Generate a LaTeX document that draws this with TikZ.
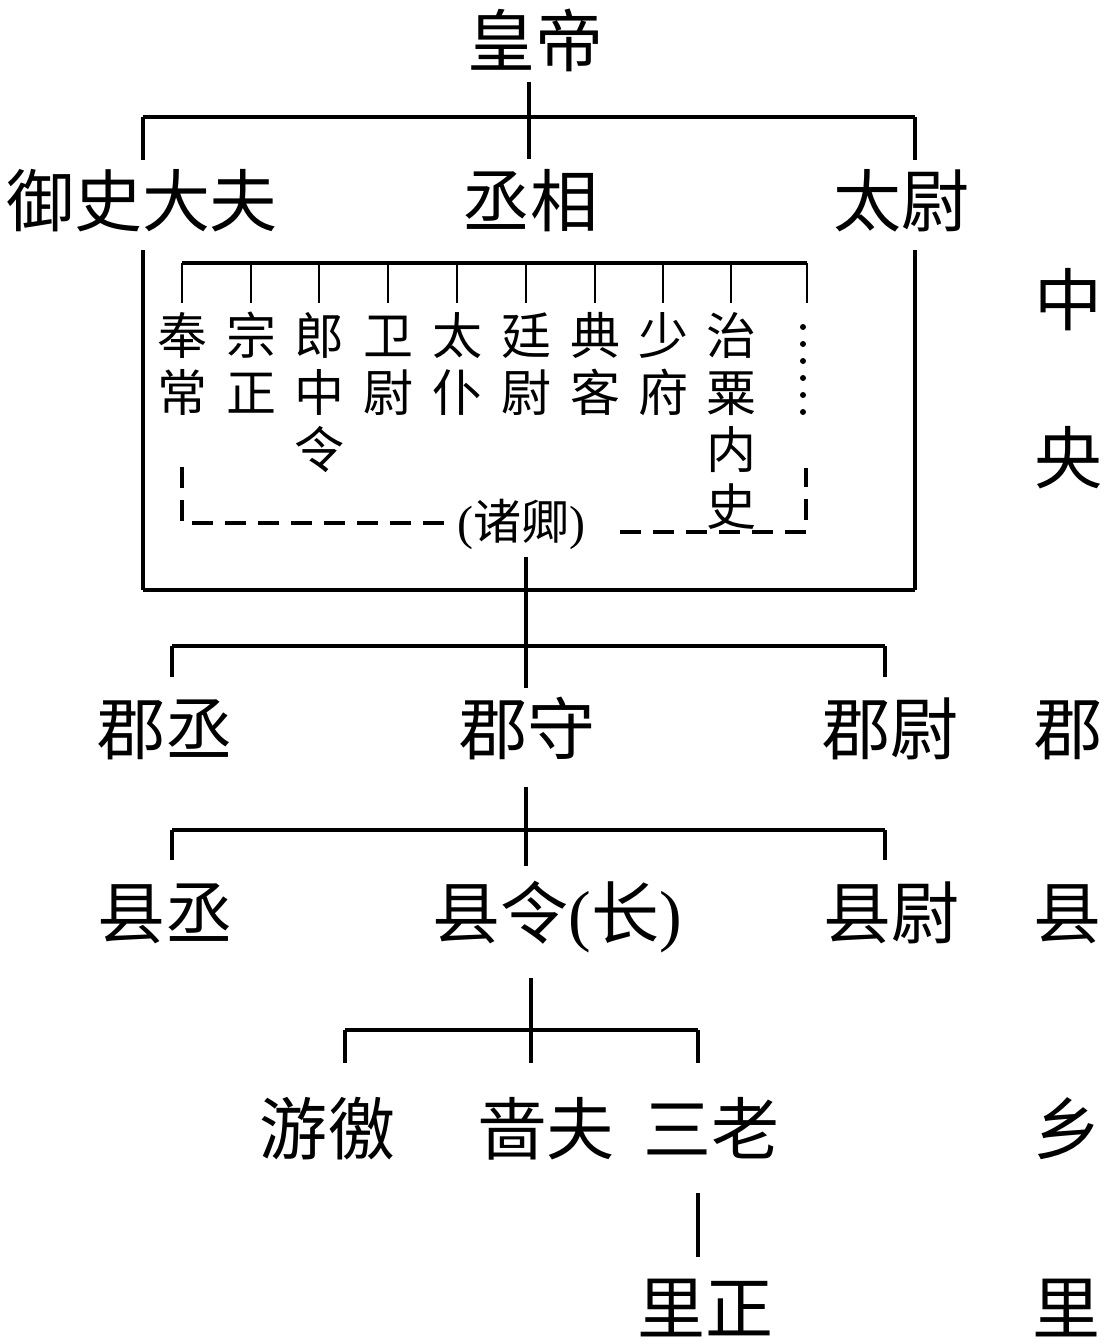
\documentclass[tikz,border=0pt]{standalone}
\usepackage{fontspec}
\setmainfont{Liberation Serif}
\newfontfamily\cjk{Noto Sans CJK SC}
\begin{document}
\begin{tikzpicture}[x=1pt,y=-1pt,
  big/.style={font=\fontsize{68}{70}\selectfont\cjk, inner sep=0pt, text height=60pt, text depth=8pt},
  bigr/.style={font=\fontsize{68}{70}\selectfont, inner sep=0pt, text height=60pt, text depth=8pt},
  small/.style={font=\fontsize{50}{52}\selectfont\cjk, inner sep=0pt, text height=44pt, text depth=6pt},
  midr/.style={font=\fontsize{48}{50}\selectfont, inner sep=0pt, text height=42pt, text depth=6pt},
  conn/.style={line width=3.2pt},
  bar/.style={line width=4pt},
  tick/.style={line width=2.8pt},
  dashline/.style={line width=3.2pt, dash pattern=on 21pt off 12pt},
  dotline/.style={line width=6pt, line cap=round, dash pattern=on 0pt off 17pt}]
\useasboundingbox (0,0) rectangle (1108,1342);

% ---- top level ----
\node[big] (hd) at (535,40) {皇帝};
\node[big] (ys) at (142,200) {御史大夫};
\node[big] (cx) at (530,200) {丞相};
\node[big] (tw) at (901,200) {太尉};

\coordinate (hdB) at (529,82);
\coordinate (cxT) at (529,159);
\coordinate (b1L) at (143,117);
\coordinate (b1R) at (915,117);
\coordinate (ysT) at (143,160);
\coordinate (twT) at (915,160);
\draw[conn] (hdB) -- (cxT);
\draw[bar] (b1L) -- (b1R);
\draw[conn] (b1L) -- (ysT);
\draw[conn] (b1R) -- (twT);

% ---- big frame from 御史大夫 and 太尉 ----
\coordinate (ysB) at (143,250);
\coordinate (twB) at (915,250);
\coordinate (fBL) at (143,590);
\coordinate (fBR) at (915,590);
\draw[conn] (ysB) -- (fBL);
\draw[conn] (twB) -- (fBR);
\draw[bar] (fBL) -- (fBR);

% ---- the ministers ----
\node[small] (q11) at (182,335) {奉};
\node[small] (q12) at (182,392) {常};
\node[small] (q21) at (251,335) {宗};
\node[small] (q22) at (251,392) {正};
\node[small] (q31) at (319,335) {郎};
\node[small] (q32) at (319,392) {中};
\node[small] (q33) at (319,449) {令};
\node[small] (q41) at (388,335) {卫};
\node[small] (q42) at (388,392) {尉};
\node[small] (q51) at (457,335) {太};
\node[small] (q52) at (457,392) {仆};
\node[small] (q61) at (526,335) {廷};
\node[small] (q62) at (526,392) {尉};
\node[small] (q71) at (595,335) {典};
\node[small] (q72) at (595,392) {客};
\node[small] (q81) at (663,335) {少};
\node[small] (q82) at (663,392) {府};
\node[small] (q91) at (731,335) {治};
\node[small] (q92) at (731,392) {粟};
\node[small] (q93) at (731,449) {内};
\node[small] (q94) at (731,506) {史};

\coordinate (ibL) at (182,263);
\coordinate (ibR) at (807,263);
\coordinate (ibRd) at (807,303);
\draw[bar] (ibL) -- (ibR);
\draw[tick] (ibR) -- (ibRd);
\foreach \n/\x in {q11/182,q21/251,q31/319,q41/388,q51/457,q61/526,q71/595,q81/663,q91/731}
  \draw[tick] (\x,263) -- (\x,303);

\coordinate (dotT) at (803,327);
\coordinate (dotB) at (803,412);
\draw[dotline] (dotT) -- (dotB);

\node[midr] (zq) at (521,521) {({\cjk 诸卿})};
\coordinate (dl1) at (182,467);
\coordinate (dl2) at (182,523);
\coordinate (dl3) at (452,523);
\draw[dashline] (dl1) -- (dl2) -- (dl3);
\coordinate (dr1) at (620,532);
\coordinate (dr2) at (806,532);
\coordinate (dr3) at (806,468);
\draw[dashline] (dr1) -- (dr2) -- (dr3);

% ---- commandery ----
\node[big] (jc) at (165,728) {郡丞};
\node[big] (js) at (527,728) {郡守};
\node[big] (jw) at (890,728) {郡尉};

\coordinate (zqB) at (526,557);
\coordinate (jsT) at (526,688);
\coordinate (b2L) at (172,646);
\coordinate (b2R) at (885,646);
\draw[conn] (zqB) -- (jsT);
\draw[bar] (b2L) -- (b2R);
\draw[conn] (b2L) -- (172,677);
\draw[conn] (b2R) -- (885,677);

% ---- county ----
\node[big] (xc) at (165,912) {县丞};
\node[bigr] (xl) at (557,912) {{\cjk 县令}({\cjk 长})};
\node[big] (xw) at (891,912) {县尉};

\coordinate (jsB) at (526,787);
\coordinate (xlT) at (526,866);
\coordinate (b3L) at (172,830);
\coordinate (b3R) at (885,830);
\draw[conn] (jsB) -- (xlT);
\draw[bar] (b3L) -- (b3R);
\draw[conn] (b3L) -- (172,860);
\draw[conn] (b3R) -- (885,860);

% ---- township ----
\node[big] (yj) at (327,1128) {游徼};
\node[big] (sf) at (546,1128) {啬夫};
\node[big] (sl) at (711,1128) {三老};

\coordinate (xlB) at (531,978);
\coordinate (sfT) at (531,1063);
\coordinate (b4L) at (345,1030);
\coordinate (b4R) at (698,1030);
\draw[conn] (xlB) -- (sfT);
\draw[bar] (b4L) -- (b4R);
\draw[conn] (b4L) -- (345,1063);
\draw[conn] (b4R) -- (698,1063);

% ---- village ----
\node[big] (lz) at (705,1307) {里正};
\coordinate (slB) at (698,1193);
\coordinate (lzT) at (698,1257);
\draw[conn] (slB) -- (lzT);

% ---- level labels ----
\node[big] (r1) at (1068,299) {中};
\node[big] (r2) at (1068,457) {央};
\node[big] (r3) at (1068,728) {郡};
\node[big] (r4) at (1067,912) {县};
\node[big] (r5) at (1067,1128) {乡};
\node[big] (r6) at (1066,1307) {里};
\end{tikzpicture}
\end{document}
